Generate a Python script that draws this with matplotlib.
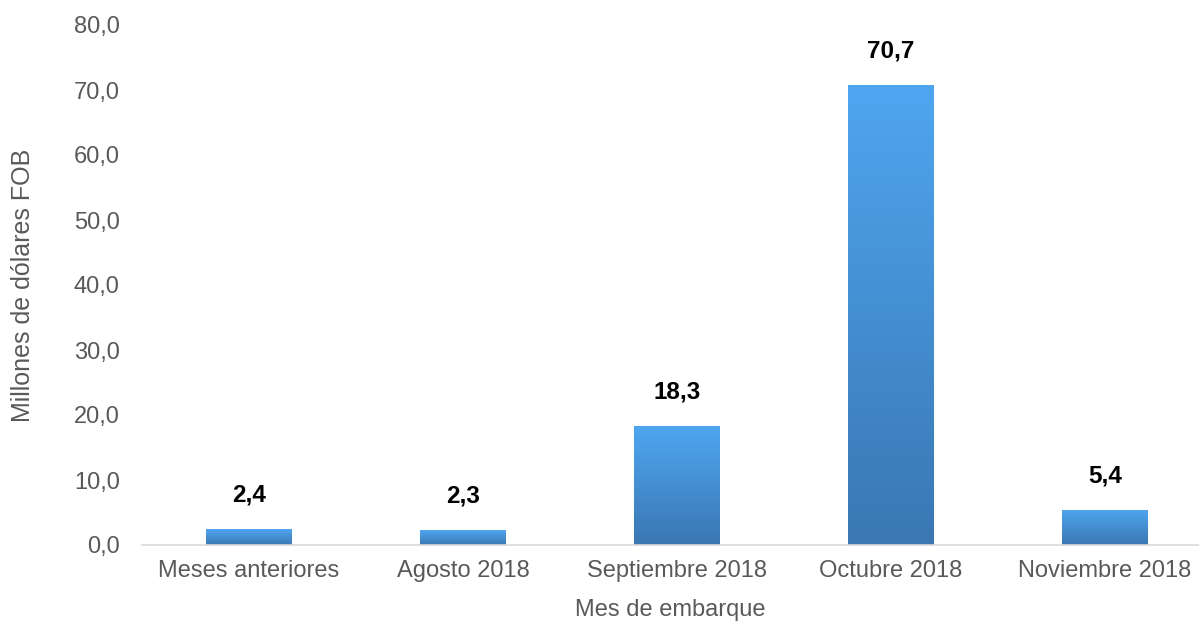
import matplotlib
matplotlib.use("Agg")
import matplotlib.pyplot as plt
import numpy as np
from matplotlib.colors import LinearSegmentedColormap

categories = ["Meses anteriores", "Agosto 2018", "Septiembre 2018", "Octubre 2018", "Noviembre 2018"]
values = [2.4, 2.3, 18.3, 70.7, 5.4]
yticks = [0, 10, 20, 30, 40, 50, 60, 70, 80]

plt.rcParams['font.family'] = ['Liberation Sans', 'DejaVu Sans']

fig = plt.figure(figsize=(11.99, 6.23), dpi=100)
ax = fig.add_axes([142/1199, 78/623, (1199-142)/1199, (545-25)/623])

x = np.arange(len(categories))
width = 0.4
bars = ax.bar(x, values, width=width, color='none', edgecolor='none', zorder=2)

cmap = LinearSegmentedColormap.from_list('g', ['#3a77b3', '#4fa6f0'])
grad = np.linspace(0, 1, 256).reshape(-1, 1)
for b in bars:
    x0, y0 = b.get_x(), b.get_y()
    w, h = b.get_width(), b.get_height()
    im = ax.imshow(grad, extent=[x0, x0 + w, y0, y0 + h], origin='lower',
                   cmap=cmap, aspect='auto', zorder=2)
    im.set_clip_path(b)

for xi, v in zip(x, values):
    ax.annotate(f"{v:.1f}".replace('.', ','), (xi, v), xytext=(0, 20),
                textcoords='offset points', ha='center', va='baseline',
                fontsize=17.5, fontweight='bold', color='black')

ax.set_xlim(-0.5, 4.44)
ax.set_ylim(0, 80)
ax.set_yticks(yticks)
ax.set_yticklabels([f"{t:.1f}".replace('.', ',') for t in yticks])
ax.set_xticks(x)
ax.set_xticklabels(categories)
ax.tick_params(axis='both', labelsize=17, colors='#595959', length=0)
ax.tick_params(axis='y', pad=16)
ax.tick_params(axis='x', pad=11)
for s in ['top', 'right', 'left']:
    ax.spines[s].set_visible(False)
ax.spines['bottom'].set_color('#d9d9d9')
ax.spines['bottom'].set_linewidth(1.2)

ax.set_xlabel("Mes de embarque", fontsize=17, color='#595959', labelpad=12)
ax.set_ylabel("Millones de dólares FOB", fontsize=18, color='#595959', labelpad=28)

fig.savefig("out.png", dpi=100)
